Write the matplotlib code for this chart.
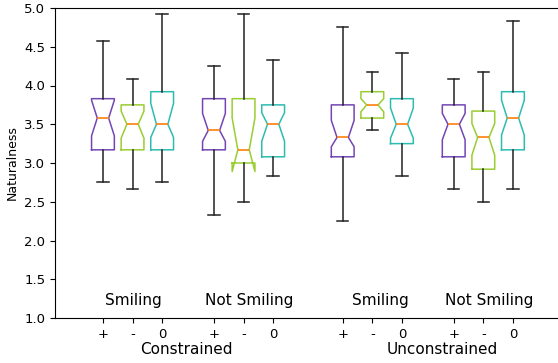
import matplotlib
matplotlib.use("Agg")
import matplotlib.pyplot as plt

# ---- data ----
tick_labels = ["+", "-", "0"] * 4
positions = [1, 2, 3, 4.75, 5.75, 6.75, 9.1, 10.1, 11.1, 12.85, 13.85, 14.85]
colors = ["#7446b4", "#9acd32", "#2ebcb2"] * 4

whislo = [2.75, 2.67, 2.75, 2.33, 2.50, 2.83, 2.25, 3.42, 2.83, 2.67, 2.50, 2.67]
q1     = [3.17, 3.17, 3.17, 3.17, 3.00, 3.08, 3.08, 3.58, 3.25, 3.08, 2.92, 3.17]
med    = [3.58, 3.50, 3.50, 3.42, 3.17, 3.50, 3.33, 3.75, 3.50, 3.50, 3.33, 3.58]
q3     = [3.83, 3.75, 3.92, 3.83, 3.83, 3.75, 3.75, 3.92, 3.83, 3.75, 3.67, 3.92]
whishi = [4.58, 4.08, 4.92, 4.25, 4.92, 4.33, 4.75, 4.17, 4.42, 4.08, 4.17, 4.83]
cilo   = [3.35, 3.32, 3.33, 3.28, 2.89, 3.28, 3.21, 3.66, 3.32, 3.30, 3.10, 3.36]
cihi   = [3.81, 3.67, 3.77, 3.64, 3.58, 3.65, 3.55, 3.83, 3.71, 3.64, 3.51, 3.81]

group_labels = ["Smiling", "Not Smiling", "Smiling", "Not Smiling"]
group_label_x = [2.03, 5.93, 10.36, 14.05]
cond_labels = ["Constrained", "Unconstrained"]
cond_label_x = [3.82, 12.47]

fig = plt.figure(figsize=(5.58, 3.63), dpi=100)
W, H = 558, 363
left_px, top_px, bottom_px = 55, 8, 318
xmin, xmax = -0.62, 17.0
unit_px = 29.6
ax_w = (xmax - xmin) * unit_px / W
ax = fig.add_axes([left_px / W, (H - bottom_px) / H, ax_w, (bottom_px - top_px) / H])

stats = []
for i in range(len(med)):
    stats.append(dict(med=med[i], q1=q1[i], q3=q3[i], whislo=whislo[i],
                      whishi=whishi[i], cilo=cilo[i], cihi=cihi[i], fliers=[]))

bp = ax.bxp(stats, positions=positions, widths=0.77, shownotches=True,
            showfliers=False, patch_artist=False,
            medianprops=dict(color="#ff7f0e", linewidth=1.2),
            whiskerprops=dict(color="#222222", linewidth=1.1),
            capprops=dict(color="#222222", linewidth=1.1),
            boxprops=dict(linewidth=1.1))
for b, c in zip(bp["boxes"], colors):
    b.set_color(c)

ax.set_xlim(xmin, xmax)
ax.set_ylim(1.0, 5.0)
ax.set_yticks([1.0, 1.5, 2.0, 2.5, 3.0, 3.5, 4.0, 4.5, 5.0])
ax.set_xticks(positions)
ax.set_xticklabels(tick_labels)
ax.tick_params(labelsize=9.5, length=3.5)
ax.set_ylabel("Naturalness", fontsize=9)
ax.spines["right"].set_visible(False)

for x, t in zip(group_label_x, group_labels):
    ax.text(x, 1.23, t, ha="center", va="center", fontsize=11)
for x, t in zip(cond_label_x, cond_labels):
    ax.text(x, 0.60, t, ha="center", va="center", fontsize=11, clip_on=False)

fig.savefig("out.png", dpi=100)
